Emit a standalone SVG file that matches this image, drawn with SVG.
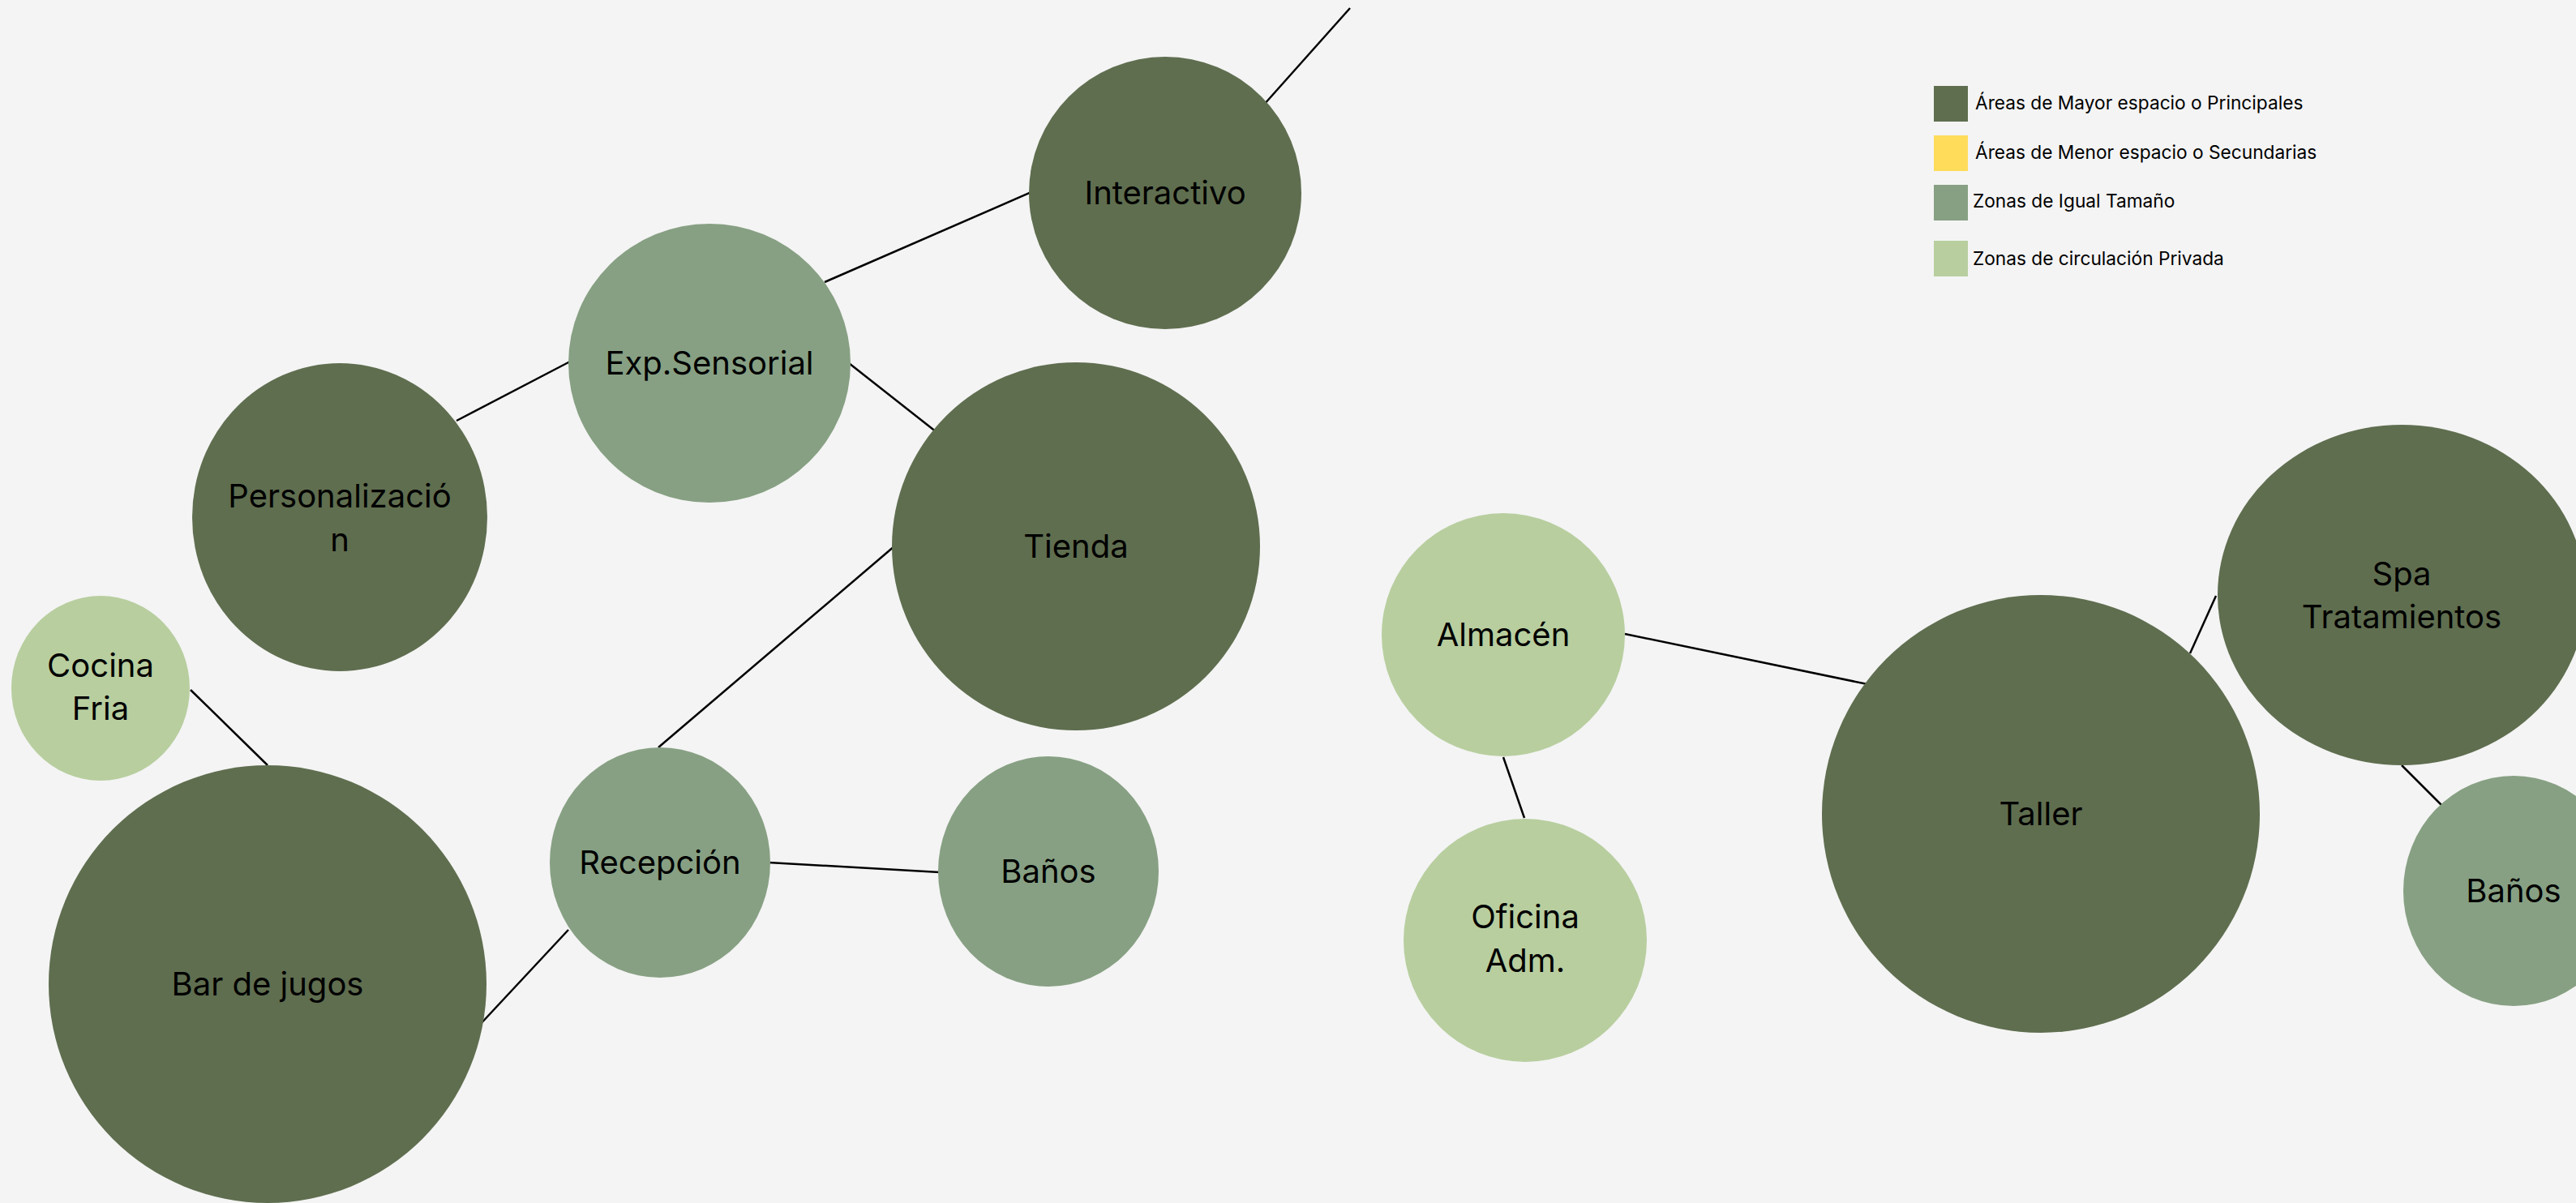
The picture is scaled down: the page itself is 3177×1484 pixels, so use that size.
<svg xmlns="http://www.w3.org/2000/svg" width="3177" height="1484" viewBox="0 0 3177 1484">
<style>
.dark{fill:#5F6E4F}
.mid{fill:#87A083}
.light{fill:#B8CE9F}
.lbl{font-family:Inter,"Liberation Sans",sans-serif;font-size:40px;fill:#000;text-anchor:middle}
.leg{font-family:Inter,"Liberation Sans",sans-serif;font-size:22.7px;fill:#000}
.edge{stroke:#000;stroke-width:2.5;fill:none}
</style>
<rect width="3177" height="1484" fill="#F4F4F4"/>
<g id="connectors">
<line class="edge" x1="1558" y1="130" x2="1665" y2="10"/>
<line class="edge" x1="1017" y1="348" x2="1272" y2="237"/>
<line class="edge" x1="563" y1="519" x2="703" y2="446"/>
<line class="edge" x1="1047" y1="448" x2="1155" y2="533"/>
<line class="edge" x1="1104" y1="673" x2="812" y2="922"/>
<line class="edge" x1="948" y1="1064" x2="1159" y2="1076"/>
<line class="edge" x1="701" y1="1147" x2="590" y2="1266"/>
<line class="edge" x1="235" y1="851" x2="330" y2="944"/>
<line class="edge" x1="2004" y1="782" x2="2308" y2="845"/>
<line class="edge" x1="1854" y1="934" x2="1880" y2="1009"/>
<line class="edge" x1="2701" y1="806" x2="2733" y2="735"/>
<line class="edge" x1="2962" y1="944" x2="3011" y2="993"/>
</g>
<g id="interactivo"><ellipse class="dark" cx="1437" cy="238" rx="168" ry="168"/><text class="lbl" x="1437" y="252">Interactivo</text></g>
<g id="exp-sensorial"><ellipse class="mid" cx="875" cy="448" rx="174" ry="172"/><text class="lbl" x="875" y="462">Exp.Sensorial</text></g>
<g id="personalizacion"><ellipse class="dark" cx="419" cy="638" rx="182" ry="190"/><text class="lbl" x="419" y="626">Personalizació</text><text class="lbl" x="419" y="680">n</text></g>
<g id="tienda"><ellipse class="dark" cx="1327" cy="674" rx="227" ry="227"/><text class="lbl" x="1327" y="688">Tienda</text></g>
<g id="cocina-fria"><ellipse class="light" cx="124" cy="849" rx="110" ry="114"/><text class="lbl" x="124" y="835">Cocina</text><text class="lbl" x="124" y="888">Fria</text></g>
<g id="bar-de-jugos"><ellipse class="dark" cx="330" cy="1214" rx="270" ry="270"/><text class="lbl" x="330" y="1228">Bar de jugos</text></g>
<g id="recepcion"><ellipse class="mid" cx="814" cy="1064" rx="136" ry="142"/><text class="lbl" x="814" y="1078">Recepción</text></g>
<g id="banos-1"><ellipse class="mid" cx="1293" cy="1075" rx="136" ry="142"/><text class="lbl" x="1293" y="1089">Baños</text></g>
<g id="almacen"><ellipse class="light" cx="1854" cy="783" rx="150" ry="150"/><text class="lbl" x="1854" y="797">Almacén</text></g>
<g id="oficina-adm"><ellipse class="light" cx="1881" cy="1160" rx="150" ry="150"/><text class="lbl" x="1881" y="1145">Oficina</text><text class="lbl" x="1881" y="1199">Adm.</text></g>
<g id="taller"><ellipse class="dark" cx="2517" cy="1004" rx="270" ry="270"/><text class="lbl" x="2517" y="1018">Taller</text></g>
<g id="spa-tratamientos"><ellipse class="dark" cx="2962" cy="734" rx="227" ry="210"/><text class="lbl" x="2962" y="722">Spa</text><text class="lbl" x="2962" y="775">Tratamientos</text></g>
<g id="banos-2"><ellipse class="mid" cx="3100" cy="1099" rx="136" ry="142"/><text class="lbl" x="3100" y="1113">Baños</text></g>
<g id="legend">
<rect x="2385" y="106" width="42" height="44" fill="#5F6E4F"/><text class="leg" x="2436" y="135">Áreas de Mayor espacio o Principales</text>
<rect x="2385" y="167" width="42" height="44" fill="#FFDC5A"/><text class="leg" x="2436" y="196">Áreas de Menor espacio o Secundarias</text>
<rect x="2385" y="228" width="42" height="44" fill="#87A083"/><text class="leg" x="2433" y="256">Zonas de Igual Tamaño</text>
<rect x="2385" y="297" width="42" height="44" fill="#B8CE9F"/><text class="leg" x="2433" y="327">Zonas de circulación Privada</text>
</g>
</svg>
